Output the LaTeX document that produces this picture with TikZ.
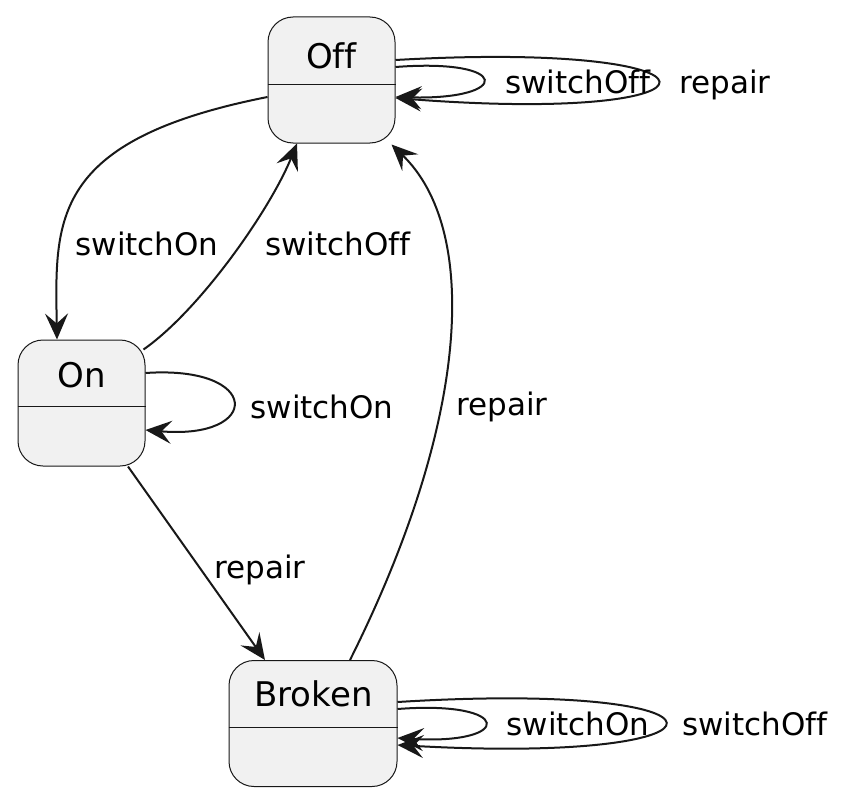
\documentclass[tikz,border=0pt]{standalone}
\usepackage{fontspec}
\setmainfont[Ligatures={NoCommon}]{DejaVu Sans}
\usetikzlibrary{arrows.meta}
\definecolor{stfill}{HTML}{F1F1F1}
\definecolor{edgecol}{HTML}{181818}
\begin{document}
\begin{tikzpicture}[x=1pt,y=-1pt,
  statebox/.style={draw=edgecol, line width=1pt, fill=stfill, rounded corners=25pt, inner sep=0pt, minimum height=126pt},
  divider/.style={draw=edgecol, line width=1pt},
  lbl/.style={anchor=base, inner sep=0pt, font=\fontsize{31}{37}\selectfont},
  sname/.style={anchor=base, inner sep=0pt, font=\fontsize{34}{40}\selectfont},
  edge/.style={draw=edgecol, line width=2pt, -{Stealth[length=26pt,width=23pt,inset=10pt]}}
]
\useasboundingbox (0,0) rectangle (861,800);
% states
\node[statebox, minimum width=127pt] (off) at (331.5,80) {};
\node[statebox, minimum width=127pt] (on) at (81.5,403) {};
\node[statebox, minimum width=168pt] (broken) at (313,723.5) {};
\draw[divider] (off.west |- 0,84) -- (off.east |- 0,84);
\draw[divider] (on.west |- 0,406) -- (on.east |- 0,406);
\draw[divider] (broken.west |- 0,727) -- (broken.east |- 0,727);
\node[sname] (offname) at (331.5,68) {Off};
\node[sname] (onname) at (81.5,387) {On};
\node[sname] (brokenname) at (313.5,706) {Broken};
% transitions
\draw[edge] ([yshift=-17pt]off.west) .. controls (50,140) and (55,220) .. ([xshift=-24.5pt]on.north);
\draw[edge] ([xshift=-2pt,yshift=-10pt]on.north east) .. controls (200,310) and (270,210) .. ([xshift=-34.5pt]off.south);
\draw[edge] ([xshift=37pt]broken.north) .. controls (470,420) and (480,230) .. ([xshift=-4pt,yshift=-1pt]off.south east);
\draw[edge] ([xshift=46.5pt]on.south) -- ([xshift=-48pt]broken.north);
% self loops
\draw[edge] ([yshift=13pt]off.east) .. controls (512,58) and (512,100) .. ([yshift=-17pt]off.east);
\draw[edge] ([yshift=20pt]off.east) .. controls (745,40) and (745,125) .. ([yshift=-18pt]off.east);
\draw[edge] ([yshift=30pt]on.east) .. controls (262,365) and (262,440) .. ([yshift=-27pt]on.east);
\draw[edge] ([yshift=14.5pt]broken.east) .. controls (514,700) and (514,745) .. ([yshift=-14.5pt]broken.east);
\draw[edge] ([yshift=21.5pt]broken.east) .. controls (754,680) and (754,765) .. ([yshift=-21.5pt]broken.east);
% labels
\node[lbl] (l1) at (147,255) {switchOn};
\node[lbl] (l2) at (338,255) {switchOff};
\node[lbl] (l3) at (502,415) {repair};
\node[lbl] (l4) at (260,578) {repair};
\node[lbl] (l5) at (578,93) {switchOff};
\node[lbl] (l6) at (725,93) {repair};
\node[lbl] (l7) at (322,418) {switchOn};
\node[lbl] (l8) at (578,735) {switchOn};
\node[lbl] (l9) at (755,735) {switchOff};
\end{tikzpicture}
\end{document}
